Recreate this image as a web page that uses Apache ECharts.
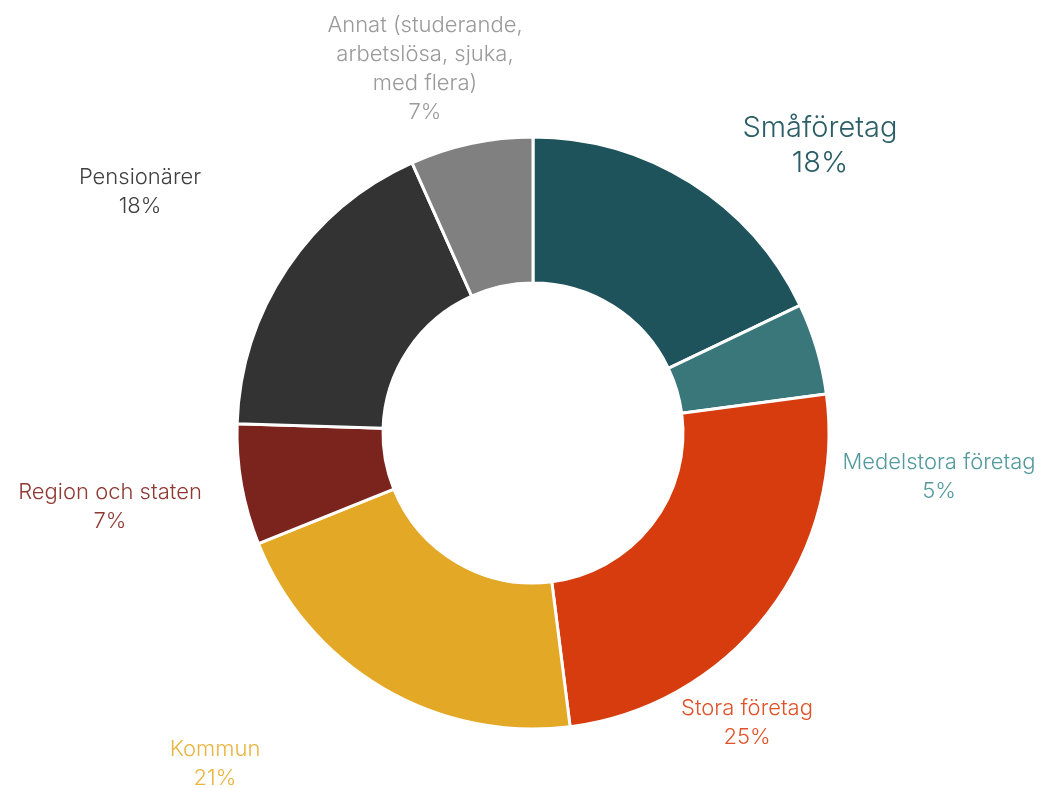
<!DOCTYPE html>
<html>
<head>
<meta charset="utf-8">
<script src="https://cdn.jsdelivr.net/npm/echarts@6/dist/echarts.min.js"></script>
<style>html,body{margin:0;padding:0;background:#fff}#c{width:1045px;height:788px}</style>
</head>
<body>
<div id="c"></div>
<script>
const categories = ["Småföretag", "Medelstora företag", "Stora företag", "Kommun", "Region och staten", "Pensionärer", "Annat (studerande,\narbetslösa, sjuka,\nmed flera)"];
const values = [17.9, 5.0, 25.1, 20.9, 6.6, 17.8, 6.7];
const sliceColors = ["#1F535C", "#3A777B", "#D63C0E", "#E3A826", "#7B241D", "#333333", "#808080"];
const labelColors = ["#2B5E66", "#549A9E", "#E0532A", "#E9B540", "#8E3A33", "#404040", "#9A9A9A"];
const labelPos = [[820,146],[939,477],[747,723],[215,764],[110,507],[140,192],[425,69]];

const chart = echarts.init(document.getElementById('c'), null, {renderer:'canvas'});
chart.setOption({
  animation: false,
  series: [{
    type: 'pie',
    center: [533, 433],
    radius: [150, 296],
    startAngle: 90,
    clockwise: true,
    avoidLabelOverlap: false,
    itemStyle: { borderColor: '#fff', borderWidth: 3 },
    label: {
      show: true,
      position: 'outside',
      fontFamily: 'Inter, "Open Sans", sans-serif',
      fontWeight: 300,
      fontSize: 22,
      lineHeight: 29,
      align: 'center',
      formatter: p => p.name + '\n' + Math.round(p.percent) + '%'
    },
    labelLine: { show: false },
    labelLayout: function (params) {
      const pos = labelPos[params.dataIndex];
      return { x: pos[0], y: pos[1], align: 'center', verticalAlign: 'middle' };
    },
    emphasis: { disabled: true },
    data: categories.map((n, i) => ({
      name: n,
      value: values[i],
      itemStyle: { color: sliceColors[i] },
      label: i === 0 ? { color: labelColors[i], fontSize: 29, lineHeight: 35 } : { color: labelColors[i] }
    }))
  }]
});
</script>
</body>
</html>
